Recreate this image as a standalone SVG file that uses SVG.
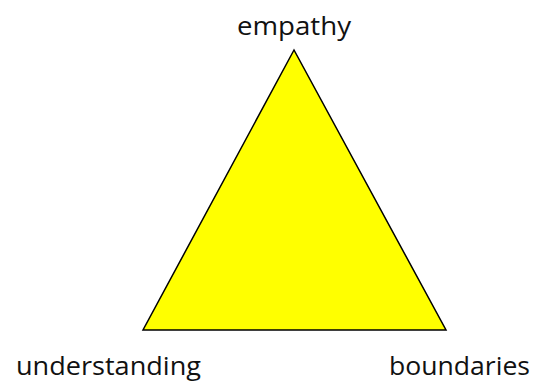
<svg xmlns="http://www.w3.org/2000/svg" width="533" height="383" viewBox="0 0 533 383">
<style>
text { font-family: "Open Sans", "Noto Sans", sans-serif; font-size: 25px; fill: #111; }
.tri { fill: #ffff00; stroke: #000; stroke-width: 1.5; stroke-linejoin: miter; }
</style>
<rect width="533" height="383" fill="#fff"/>
<g id="triangle">
<polygon class="tri" points="294,50 143,330 446,330"/>
</g>
<g id="empathy"><text x="237" y="35" textLength="114" lengthAdjust="spacingAndGlyphs">empathy</text></g>
<g id="understanding"><text x="16" y="375" textLength="185" lengthAdjust="spacingAndGlyphs">understanding</text></g>
<g id="boundaries"><text x="389" y="375" textLength="141" lengthAdjust="spacingAndGlyphs">boundaries</text></g>
<g id="connectors"></g>
</svg>
